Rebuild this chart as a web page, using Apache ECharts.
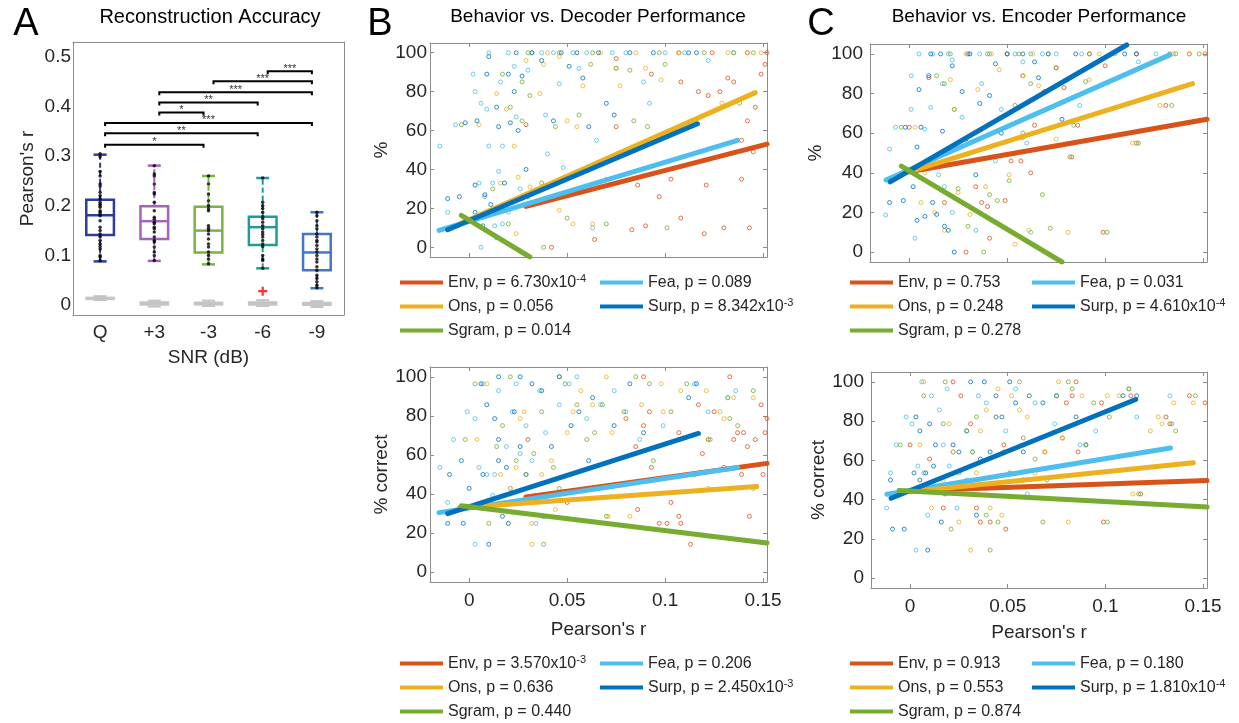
<!DOCTYPE html>
<html>
<head>
<meta charset="utf-8">
<script src="https://cdn.jsdelivr.net/npm/echarts@6.0.0/dist/echarts.min.js"></script>
<style>
html,body{margin:0;padding:0;background:#fff}
#main{width:1239px;height:723px}
</style>
</head>
<body>
<div id="main"></div>
<script>
// ---------- panel A : reconstruction accuracy ----------
var snrCats = ['Q', '+3', '-3', '-6', '-9'];
// [lower whisker, q1, median, q3, upper whisker]
var boxStats = [
	[0.088, 0.141, 0.181, 0.212, 0.303],
	[0.089, 0.133, 0.169, 0.199, 0.281],
	[0.082, 0.106, 0.150, 0.198, 0.260],
	[0.074, 0.121, 0.157, 0.178, 0.256],
	[0.034, 0.070, 0.106, 0.143, 0.187]
];
var nullStats = [
	[0.010, 0.012, 0.0135, 0.015, 0.018],
	[-0.003, 0.0005, 0.003, 0.0055, 0.009],
	[-0.002, 0.001, 0.003, 0.005, 0.009],
	[-0.002, 0.0008, 0.003, 0.0055, 0.010],
	[-0.004, 0.000, 0.002, 0.0045, 0.008]
];
var outliers = [[3, 0.028]];
var dotsQ = [0.305, 0.299, 0.269, 0.26, 0.244, 0.24, 0.227, 0.22, 0.214, 0.207, 0.203, 0.2, 0.197, 0.19, 0.187, 0.183, 0.18, 0.17, 0.157, 0.15, 0.143, 0.137, 0.13, 0.123, 0.118, 0.113, 0.1, 0.097, 0.09];
var dotsP3 = [0.2805, 0.264, 0.26, 0.244, 0.227, 0.224, 0.207, 0.19, 0.177, 0.173, 0.167, 0.164, 0.157, 0.154, 0.147, 0.137, 0.13, 0.127, 0.117, 0.107, 0.1, 0.09];
var dotsM3 = [0.26, 0.244, 0.224, 0.21, 0.2, 0.194, 0.19, 0.16, 0.155, 0.15, 0.143, 0.133, 0.123, 0.117, 0.107, 0.1, 0.093, 0.083];
var dotsM6 = [0.256, 0.207, 0.2, 0.194, 0.187, 0.178, 0.174, 0.167, 0.16, 0.154, 0.147, 0.142, 0.137, 0.13, 0.123, 0.118, 0.1, 0.093, 0.09, 0.074];
var dotsM9 = [0.187, 0.18, 0.17, 0.16, 0.154, 0.143, 0.137, 0.13, 0.127, 0.12, 0.113, 0.107, 0.1, 0.093, 0.087, 0.077, 0.07, 0.06, 0.054, 0.047, 0.04, 0.035];
// [from category, to category, height, stars]
var brackets = [
	[1, 3, 0.323, '*'], [1, 4, 0.346, '**'], [1, 5, 0.367, '***'],
	[2, 3, 0.388, '*'], [2, 4, 0.408, '**'], [2, 5, 0.429, '***'],
	[3, 5, 0.451, '***'], [4, 5, 0.471, '***']
];

// ---------- panels B / C : behaviour vs performance ----------
var features = ['Env', 'Fea', 'Ons', 'Surp', 'Sgram'];

var decTopEnv = [[0.029,63],[0.042,0],[0.064,4],[0.075,62],[0.075,97],[0.083,9],[0.086,32],[0.090,11],[0.093,89],[0.097,26],[0.103,35],[0.108,15],[0.117,80],[0.120,7],[0.121,32],[0.122,78],[0.128,80],[0.130,10],[0.132,87],[0.135,85],[0.139,55],[0.139,35],[0.142,65],[0.143,10],[0.146,72],[0.149,89],[0.151,94],[0.142,100],[0.152,100],[0.145,49],[0.107,100],[0.124,100],[0.108,85]];
var decTopFea = [[-0.015,52],[-0.011,18],[-0.007,63],[0.002,89],[0.003,80],[0.006,74],[0.009,71],[0.010,52],[0.015,39],[0.016,85],[0.017,52],[0.012,33],[0.023,93],[0.024,67],[0.030,91],[0.030,26],[0.032,100],[0.037,100],[0.039,68],[0.040,48],[0.046,84],[0.048,41],[0.053,100],[0.056,92],[0.063,10],[0.065,55],[0.073,100],[0.089,85],[0.092,74],[0.122,96],[0.135,100],[0.006,0],[0.017,12],[0.010,100],[0.020,100],[0.043,100],[0.060,100],[0.080,100],[0.100,100],[0.110,100],[0.005,33],[0.008,26],[0.013,11],[0.020,18],[0.026,30]];
var decTopOns = [[0.005,63],[0.014,79],[0.019,71],[0.023,52],[0.025,36],[0.029,96],[0.031,31],[0.036,79],[0.038,94],[0.046,98],[0.050,65],[0.053,12],[0.055,62],[0.063,12],[0.067,100],[0.070,35],[0.075,92],[0.077,83],[0.090,92],[0.098,86],[0.107,100],[0.129,74],[0.132,100],[0.142,100],[0.149,100],[0.024,7],[0.046,19],[0.016,33],[0.040,100],[0.085,100],[0.058,83]];
var decTopSurp = [[-0.011,25],[-0.005,26],[-0.002,64],[0.003,32],[0.004,65],[0.008,27],[0.009,89],[0.010,98],[0.014,72],[0.015,62],[0.020,89],[0.021,64],[0.023,80],[0.025,60],[0.027,88],[0.029,40],[0.032,100],[0.037,96],[0.043,65],[0.047,100],[0.051,93],[0.058,87],[0.061,62],[0.070,74],[0.074,68],[0.082,100],[0.112,100],[0.116,100],[0.014,5],[0.003,18],[0.007,11],[0.011,22],[0.018,33],[0.024,100],[0.055,100],[0.066,100],[0.094,100]];
var decTopSgram = [[-0.004,63],[0.017,89],[0.021,72],[0.027,85],[0.027,65],[0.031,78],[0.037,33],[0.038,0],[0.044,62],[0.050,15],[0.056,68],[0.062,94],[0.070,12],[0.075,92],[0.082,91],[0.084,65],[0.091,62],[0.100,94],[0.101,10],[0.138,74],[0.135,100],[0.145,100],[0.046,100],[0.063,100],[0.097,100],[0.012,30],[0.020,12],[0.030,100],[0.120,100]];

var decBotEnv = [[0.080,78.6],[0.085,64.3],[0.089,100],[0.086,32.1],[0.089,75],[0.092,82.1],[0.093,53.6],[0.097,25],[0.101,25],[0.103,35.7],[0.107,71.4],[0.107,28.6],[0.108,25],[0.113,14.3],[0.117,85.7],[0.119,60.7],[0.122,67.9],[0.125,82.1],[0.130,53.6],[0.133,100],[0.135,67.9],[0.139,50],[0.140,71.4],[0.142,64.3],[0.143,28.6],[0.146,67.9],[0.149,85.7],[0.150,50],[0.151,71.4],[0.152,78.6],[0.137,71.4],[0.115,50],[0.030,67.9],[0.050,35.7]];
var decBotFea = [[-0.015,53.6],[-0.011,35.7],[-0.008,67.9],[-0.001,82.1],[0.003,78.6],[0.003,14.3],[0.007,96.4],[0.009,50],[0.012,39.3],[0.015,92.9],[0.019,64.3],[0.022,82.1],[0.024,96.4],[0.029,75],[0.032,57.1],[0.036,92.9],[0.039,71.4],[0.046,85.7],[0.051,96.4],[0.055,100],[0.060,78.6],[0.067,85.7],[0.074,92.9],[0.080,82.1],[0.087,67.9],[0.099,75],[0.115,96.4],[0.122,82.1],[0.132,89.3],[0.136,92.9],[0.034,25],[0.021,42.9],[0.005,53.6],[0.013,50],[0.026,60.7]];
var decBotOns = [[0.004,67.9],[0.009,96.4],[0.016,50],[0.021,42.9],[0.026,78.6],[0.028,82.1],[0.032,14.3],[0.032,25],[0.037,50],[0.042,57.1],[0.044,32.1],[0.046,100],[0.050,71.4],[0.053,82.1],[0.057,92.9],[0.063,85.7],[0.070,100],[0.071,28.6],[0.073,71.4],[0.082,28.6],[0.088,85.7],[0.098,96.4],[0.099,82.1],[0.108,92.9],[0.121,92.9],[0.128,82.1],[0.130,78.6],[0.135,89.3],[0.145,89.3],[0.122,42.9],[0.024,53.6]];
var decBotSurp = [[-0.010,50],[-0.011,25],[-0.004,57.1],[-0.003,25],[0.000,42.9],[0.006,96.4],[0.009,85.7],[0.010,14.3],[0.013,78.6],[0.015,57.1],[0.015,67.9],[0.017,28.6],[0.020,25],[0.023,82.1],[0.026,64.3],[0.029,50],[0.032,96.4],[0.034,39.3],[0.037,92.9],[0.038,28.6],[0.042,64.3],[0.046,100],[0.052,75],[0.056,82.1],[0.061,57.1],[0.063,89.3],[0.074,75],[0.082,96.4],[0.089,71.4],[0.112,89.3],[0.116,96.4],[0.026,100],[0.015,100],[0.007,50],[0.019,53.6]];
var decBotSgram = [[-0.002,67.9],[0.003,96.4],[0.014,64.3],[0.017,75],[0.021,100],[0.024,57.1],[0.029,50],[0.033,60.7],[0.037,82.1],[0.038,14.3],[0.043,53.6],[0.046,42.9],[0.049,96.4],[0.055,85.7],[0.060,67.9],[0.064,71.4],[0.068,85.7],[0.070,28.6],[0.079,82.1],[0.085,100],[0.092,96.4],[0.094,57.1],[0.103,82.1],[0.111,96.4],[0.123,67.9],[0.132,89.3],[0.133,78.6],[0.137,75],[0.145,92.9],[0.145,42.9],[0.010,25]];

var encTopEnv = [[0.000,63],[0.010,88],[0.018,25],[0.029,0],[0.034,33],[0.037,25],[0.040,23],[0.041,7],[0.049,26],[0.052,46],[0.057,46],[0.058,89],[0.062,40],[0.064,64],[0.069,81],[0.075,93],[0.079,83],[0.083,48],[0.086,64],[0.099,10],[0.100,94],[0.116,55],[0.131,74],[0.143,100],[0.151,100],[0.116,100],[0.050,100],[0.030,100],[0.092,100],[0.133,100]];
var encTopFea = [[-0.012,18.7],[-0.010,52],[-0.007,63],[0.001,72],[0.001,89],[0.003,7],[0.005,100],[0.008,62],[0.011,73],[0.015,39],[0.017,85],[0.018,33],[0.022,97],[0.027,68],[0.030,100],[0.034,11],[0.037,85],[0.041,100],[0.044,46],[0.047,72],[0.054,100],[0.058,96],[0.060,55],[0.062,10],[0.068,100],[0.087,74],[0.088,100],[0.117,96],[0.126,100],[0.022,20],[0.012,100],[0.020,100],[0.036,100],[0.062,100],[0.075,100]];
var encTopOns = [[0.003,63],[0.008,40],[0.013,20],[0.018,11],[0.021,87],[0.023,72],[0.029,100],[0.031,19],[0.035,82],[0.039,33],[0.042,100],[0.046,92],[0.051,39],[0.054,4],[0.058,89],[0.061,11],[0.066,84],[0.071,100],[0.075,57],[0.081,10],[0.092,87],[0.128,74],[0.135,100],[0.143,100],[0.114,55],[0.097,100],[0.006,25],[0.025,30],[0.063,100]];
var encTopSurp = [[-0.010,25],[-0.003,26],[-0.002,63],[0.002,33],[0.004,53],[0.005,82],[0.006,63],[0.008,18],[0.010,89],[0.011,100],[0.014,19],[0.017,61],[0.018,13],[0.020,11],[0.022,94],[0.023,0],[0.027,81],[0.029,57],[0.031,100],[0.034,39],[0.036,75],[0.041,79],[0.044,95],[0.047,60],[0.050,100],[0.058,58],[0.064,96],[0.066,88],[0.071,100],[0.078,67],[0.116,100],[0.004,16],[0.012,25],[0.016,100],[0.058,100],[0.085,100],[0.110,100]];
var encTopSgram = [[-0.004,63],[0.014,89],[0.018,85],[0.023,72],[0.025,32],[0.030,13],[0.038,0],[0.041,29],[0.045,26],[0.051,36],[0.054,74],[0.056,100],[0.058,60],[0.062,85],[0.068,29],[0.072,12],[0.075,93],[0.082,48],[0.084,64],[0.092,100],[0.101,10],[0.117,55],[0.134,74],[0.136,100],[0.148,100],[0.090,86],[0.021,100],[0.040,100],[0.105,100]];

var encBotEnv = [[0.000,67.9],[0.010,60.7],[0.017,35.7],[0.022,100],[0.026,92.9],[0.031,78.6],[0.034,35.7],[0.036,28.6],[0.041,28.6],[0.044,82.1],[0.048,67.9],[0.049,25],[0.051,53.6],[0.058,50],[0.069,64.3],[0.078,71.4],[0.080,89.3],[0.083,92.9],[0.086,64.3],[0.098,89.3],[0.099,28.6],[0.118,42.9],[0.113,92.9],[0.131,82.1],[0.133,78.6],[0.143,92.9],[0.151,89.3],[0.085,100]];
var encBotFea = [[-0.012,35.7],[-0.010,53.6],[-0.007,67.9],[-0.002,82.1],[0.001,78.6],[0.003,14.3],[0.004,57.1],[0.006,100],[0.009,32.1],[0.011,92.9],[0.015,85.7],[0.017,67.9],[0.019,96.4],[0.022,64.3],[0.024,35.7],[0.029,50],[0.032,64.3],[0.035,92.9],[0.039,89.3],[0.044,82.1],[0.049,75],[0.054,96.4],[0.060,42.9],[0.064,89.3],[0.074,78.6],[0.087,67.9],[0.095,75],[0.116,82.1],[0.133,92.9],[0.112,96.4],[0.007,53.6],[0.020,57.1]];
var encBotOns = [[0.005,67.9],[0.007,100],[0.011,35.7],[0.017,50],[0.020,78.6],[0.022,64.3],[0.025,28.6],[0.031,14.3],[0.034,53.6],[0.036,75],[0.039,85.7],[0.041,35.7],[0.045,96.4],[0.047,32.1],[0.052,92.9],[0.056,85.7],[0.060,82.1],[0.064,53.6],[0.069,64.3],[0.076,100],[0.078,71.4],[0.081,28.6],[0.088,92.9],[0.101,92.9],[0.107,92.9],[0.127,82.1],[0.129,78.6],[0.123,75],[0.135,89.3],[0.145,89.3],[0.114,42.9]];
var encBotSurp = [[-0.010,50],[-0.009,25],[-0.003,25],[0.003,82.1],[0.005,50],[0.005,75],[0.008,53.6],[0.009,14.3],[0.010,78.6],[0.013,67.9],[0.016,28.6],[0.018,42.9],[0.022,67.9],[0.025,64.3],[0.029,75],[0.031,100],[0.034,32.1],[0.036,60.7],[0.041,64.3],[0.044,92.9],[0.047,82.1],[0.051,100],[0.054,89.3],[0.058,64.3],[0.061,92.9],[0.068,89.3],[0.075,92.9],[0.085,82.1],[0.090,67.9],[0.109,92.9],[0.116,92.9],[0.038,100],[0.012,57.1],[0.002,53.6]];
var encBotSgram = [[-0.005,67.9],[0.007,92.9],[0.017,78.6],[0.018,100],[0.021,25],[0.025,53.6],[0.029,75],[0.032,64.3],[0.034,82.1],[0.039,32.1],[0.041,14.3],[0.045,28.6],[0.048,64.3],[0.056,100],[0.058,71.4],[0.064,60.7],[0.068,28.6],[0.070,50],[0.075,92.9],[0.081,100],[0.083,96.4],[0.090,67.9],[0.094,89.3],[0.101,28.6],[0.102,82.1],[0.112,96.4],[0.117,42.9],[0.134,78.6],[0.136,75],[0.146,92.9]];

// regression line end points
var fitDecTop = {Env: [[0.029,21],[0.152,53]], Fea: [[-0.0154,8.7],[0.137,55]], Ons: [[-0.005,12],[0.146,79.5]], Surp: [[-0.011,9],[0.1165,63.5]], Sgram: [[-0.004,16.4],[0.031,-5]]};
var fitDecBot = {Env: [[0.029,38.5],[0.152,55.7]], Fea: [[-0.0154,30.5],[0.137,53.6]], Ons: [[-0.005,33],[0.1467,43.8]], Surp: [[-0.011,30],[0.117,71]], Sgram: [[-0.004,34],[0.152,15]]};
var fitEncTop = {Env: [[0,40.5],[0.152,67]], Fea: [[-0.0118,36.4],[0.133,99.5]], Ons: [[0,40.5],[0.1446,85]], Surp: [[-0.0097,35.4],[0.111,104.5]], Sgram: [[-0.004,43.4],[0.078,-5]]};
var fitEncBot = {Env: [[0,44.5],[0.152,49.7]], Fea: [[-0.0118,42.7],[0.1333,66.3]], Ons: [[0,44],[0.145,58.8]], Surp: [[-0.0097,40.7],[0.1155,91]], Sgram: [[-0.0056,44.7],[0.152,36.2]]};

var pDecTop = {Env: '6.730x10^-4', Fea: '0.089', Ons: '0.056', Surp: '8.342x10^-3', Sgram: '0.014'};
var pDecBot = {Env: '3.570x10^-3', Fea: '0.206', Ons: '0.636', Surp: '2.450x10^-3', Sgram: '0.440'};
var pEncTop = {Env: '0.753', Fea: '0.031', Ons: '0.248', Surp: '4.610x10^-4', Sgram: '0.278'};
var pEncBot = {Env: '0.913', Fea: '0.180', Ons: '0.553', Surp: '1.810x10^-4', Sgram: '0.874'};

var xTicks = [0, 0.05, 0.1, 0.15];
var yTicks = [0, 20, 40, 60, 80, 100];
var aTicks = [0, 0.1, 0.2, 0.3, 0.4, 0.5];

// ---------- styles ----------
var FONT = '"Liberation Sans", Arial, Helvetica, sans-serif';
var AX = '#8c8c8c';
var TXT = '#262626';
var TICKFS = 19;
var featColor = {Env: '#D95319', Fea: '#4DBEEE', Ons: '#EDB120', Surp: '#0072BD', Sgram: '#77AC30'};
var boxColor = ['#2E3C9C', '#A462BA', '#7AB342', '#1F9B98', '#4376C6'];

var dom = document.getElementById('main');
var myChart = echarts.init(dom, null, {renderer: 'canvas'});

var grids = [
	{left: 73, top: 42, width: 271, height: 273},
	{left: 430, top: 43, width: 337, height: 214},
	{left: 430, top: 367, width: 337, height: 215},
	{left: 870, top: 44, width: 337, height: 218},
	{left: 871, top: 372, width: 336, height: 216}
];

function tickStyle() {
	return {inside: true, length: 4, lineStyle: {color: AX}};
}
function lineStyleAx() {
	return {show: true, onZero: false, lineStyle: {color: AX, width: 1}};
}
function nameStyle() {
	return {fontSize: 19, color: TXT, fontFamily: FONT};
}

var xAxes = [];
var yAxes = [];

// panel A axes
xAxes.push({
	type: 'category', gridIndex: 0, data: snrCats, position: 'bottom',
	axisLine: lineStyleAx(), axisTick: Object.assign(tickStyle(), {alignWithLabel: true}),
	axisLabel: {fontSize: TICKFS, color: TXT, fontFamily: FONT, margin: 8},
	name: 'SNR (dB)', nameLocation: 'middle', nameGap: 33, nameTextStyle: nameStyle()
});
xAxes.push({
	type: 'category', gridIndex: 0, data: snrCats, position: 'top',
	axisLine: lineStyleAx(), axisTick: Object.assign(tickStyle(), {alignWithLabel: true}),
	axisLabel: {show: false}
});
yAxes.push({
	type: 'value', gridIndex: 0, min: -0.02, max: 0.53, position: 'left',
	axisLine: lineStyleAx(), axisTick: Object.assign(tickStyle(), {customValues: aTicks}),
	axisLabel: {customValues: aTicks, fontSize: TICKFS, color: TXT, fontFamily: FONT, margin: 2},
	splitLine: {show: false},
	name: "Pearson's r", nameLocation: 'middle', nameGap: 36, nameTextStyle: nameStyle()
});
yAxes.push({
	type: 'value', gridIndex: 0, min: -0.02, max: 0.53, position: 'right',
	axisLine: lineStyleAx(), axisTick: Object.assign(tickStyle(), {customValues: aTicks}),
	axisLabel: {show: false}, splitLine: {show: false}
});

// scatter panel axes
function scatterAxes(gi, xName, xGap, yName, yGap, yMargin) {
	xAxes.push({
		type: 'value', gridIndex: gi, min: -0.02, max: 0.152, position: 'bottom',
		axisLine: lineStyleAx(), axisTick: Object.assign(tickStyle(), {customValues: xTicks}),
		axisLabel: {show: !!xName, customValues: xTicks, fontSize: TICKFS, color: TXT, fontFamily: FONT, margin: 9,
			formatter: function (v) { return String(v); }},
		splitLine: {show: false},
		name: xName || '', nameLocation: 'middle', nameGap: xGap, nameTextStyle: nameStyle()
	});
	xAxes.push({
		type: 'value', gridIndex: gi, min: -0.02, max: 0.152, position: 'top',
		axisLine: lineStyleAx(), axisTick: Object.assign(tickStyle(), {customValues: xTicks}),
		axisLabel: {show: false}, splitLine: {show: false}
	});
	yAxes.push({
		type: 'value', gridIndex: gi, min: -5, max: 105, position: 'left',
		axisLine: lineStyleAx(), axisTick: Object.assign(tickStyle(), {customValues: yTicks}),
		axisLabel: {customValues: yTicks, fontSize: TICKFS, color: TXT, fontFamily: FONT, margin: yMargin},
		splitLine: {show: false},
		name: yName, nameLocation: 'middle', nameGap: yGap, nameTextStyle: nameStyle()
	});
	yAxes.push({
		type: 'value', gridIndex: gi, min: -5, max: 105, position: 'right',
		axisLine: lineStyleAx(), axisTick: Object.assign(tickStyle(), {customValues: yTicks}),
		axisLabel: {show: false}, splitLine: {show: false}
	});
}
scatterAxes(1, null, 0, '%', 39, 3);
scatterAxes(2, "Pearson's r", 38, '% correct', 38, 3);
scatterAxes(3, null, 0, '%', 45, 7);
scatterAxes(4, "Pearson's r", 35, '% correct', 43, 7);

var series = [];

// panel A: boxes
function boxRender(colorOf, lw, dashed, capFrac) {
	return function (params, api) {
		var i = api.value(0);
		var low = api.coord([i, api.value(1)]);
		var q1 = api.coord([i, api.value(2)]);
		var med = api.coord([i, api.value(3)]);
		var q3 = api.coord([i, api.value(4)]);
		var high = api.coord([i, api.value(5)]);
		var band = api.size([1, 0])[0];
		var hw = band * 0.255, cw = band * capFrac;
		var x = low[0];
		var c = colorOf(params.dataIndex);
		var wStyle = {stroke: c, lineWidth: lw};
		if (dashed) wStyle.lineDash = [5, 3];
		return {type: 'group', children: [
			{type: 'line', shape: {x1: x, y1: low[1], x2: x, y2: q1[1]}, style: wStyle},
			{type: 'line', shape: {x1: x, y1: q3[1], x2: x, y2: high[1]}, style: wStyle},
			{type: 'line', shape: {x1: x - cw, y1: low[1], x2: x + cw, y2: low[1]}, style: {stroke: c, lineWidth: lw + 0.5}},
			{type: 'line', shape: {x1: x - cw, y1: high[1], x2: x + cw, y2: high[1]}, style: {stroke: c, lineWidth: lw + 0.5}},
			{type: 'rect', shape: {x: x - hw, y: q3[1], width: 2 * hw, height: q1[1] - q3[1]}, style: {stroke: c, fill: dashed ? 'none' : '#d4d4d4', lineWidth: lw + 0.5}},
			{type: 'line', shape: {x1: x - hw, y1: med[1], x2: x + hw, y2: med[1]}, style: {stroke: c, lineWidth: lw + 0.5}}
		]};
	};
}
series.push({
	type: 'custom', xAxisIndex: 0, yAxisIndex: 0, z: 2,
	renderItem: boxRender(function () { return '#c4c4c4'; }, 1.5, false, 0.12),
	data: nullStats.map(function (s, i) { return [i].concat(s); })
});
series.push({
	type: 'custom', xAxisIndex: 0, yAxisIndex: 0, z: 2,
	renderItem: boxRender(function (k) { return boxColor[k]; }, 2, true, 0.12),
	data: boxStats.map(function (s, i) { return [i].concat(s); })
});
var allDots = [dotsQ, dotsP3, dotsM3, dotsM6, dotsM9];
var dotData = [];
allDots.forEach(function (arr, i) {
	arr.forEach(function (v) { dotData.push([i, v]); });
});
series.push({
	type: 'scatter', xAxisIndex: 0, yAxisIndex: 0, z: 3,
	symbolSize: 3.5, itemStyle: {color: '#000'}, data: dotData
});
series.push({
	type: 'scatter', xAxisIndex: 0, yAxisIndex: 0, z: 3,
	symbol: 'path://M3,0h2v3h3v2h-3v3h-2v-3h-3v-2h3z', symbolSize: 9,
	itemStyle: {color: '#ff0000'}, data: outliers
});
// significance brackets
series.push({
	type: 'custom', xAxisIndex: 0, yAxisIndex: 0, z: 4,
	encode: {x: [0, 1], y: 2},
	data: brackets.map(function (b) { return [b[0] - 1, b[1] - 1, b[2]]; }),
	renderItem: function (params, api) {
		var p1 = api.coord([api.value(0), api.value(2)]);
		var p2 = api.coord([api.value(1), api.value(2)]);
		var x1 = p1[0] + 5, x2 = p2[0] - 5, y = p1[1];
		return {type: 'group', children: [
			{type: 'polyline', shape: {points: [[x1, y + 3], [x1, y], [x2, y], [x2, y + 3]]},
				style: {stroke: '#000', lineWidth: 2, fill: 'none'}},
			{type: 'text', style: {text: brackets[params.dataIndex][3], x: (x1 + x2) / 2, y: y + 3,
				align: 'center', verticalAlign: 'bottom', fontSize: 11, fontFamily: FONT, fill: '#333'}}
		]};
	}
});

// panels B/C
var panels = [
	{key: 'decTop', grid: 1, pts: {Env: decTopEnv, Fea: decTopFea, Ons: decTopOns, Surp: decTopSurp, Sgram: decTopSgram}, fit: fitDecTop, p: pDecTop},
	{key: 'decBot', grid: 2, pts: {Env: decBotEnv, Fea: decBotFea, Ons: decBotOns, Surp: decBotSurp, Sgram: decBotSgram}, fit: fitDecBot, p: pDecBot},
	{key: 'encTop', grid: 3, pts: {Env: encTopEnv, Fea: encTopFea, Ons: encTopOns, Surp: encTopSurp, Sgram: encTopSgram}, fit: fitEncTop, p: pEncTop},
	{key: 'encBot', grid: 4, pts: {Env: encBotEnv, Fea: encBotFea, Ons: encBotOns, Surp: encBotSurp, Sgram: encBotSgram}, fit: fitEncBot, p: pEncBot}
];
var legendText = {};
panels.forEach(function (pn) {
	var xi = 2 + 2 * (pn.grid - 1), yi = 2 + 2 * (pn.grid - 1);
	features.forEach(function (f) {
		series.push({
			type: 'scatter', name: f + ' pts ' + pn.key, xAxisIndex: xi, yAxisIndex: yi, z: 2,
			symbolSize: 4, data: pn.pts[f],
			itemStyle: {color: 'rgba(0,0,0,0)', borderColor: featColor[f], borderWidth: 1}
		});
	});
	features.forEach(function (f, k) {
		var nm = f + '|' + pn.key;
		var pv = pn.p[f].split('^');
		legendText[nm] = f + ', p = ' + pv[0] + (pv[1] ? '{s|' + pv[1] + '}' : '');
		series.push({
			type: 'line', name: nm, xAxisIndex: xi, yAxisIndex: yi, z: 5 + k,
			symbol: 'none', color: featColor[f], data: pn.fit[f],
			lineStyle: {width: 5, color: featColor[f], cap: 'round'}, clip: true
		});
	});
});

function makeLegend(names, left, top) {
	return {
		data: names, left: left, top: top, orient: 'vertical', padding: 0,
		itemGap: 5, itemWidth: 43, itemHeight: 4, icon: 'rect', selectedMode: false,
		formatter: function (n) { return legendText[n]; },
		textStyle: {fontSize: 16, color: TXT, fontFamily: FONT, lineHeight: 19,
			rich: {s: {fontSize: 11, lineHeight: 10, verticalAlign: 'top', color: TXT, fontFamily: FONT}}}
	};
}
var legends = [
	makeLegend(['Env|decTop', 'Ons|decTop', 'Sgram|decTop'], 400, 273),
	makeLegend(['Fea|decTop', 'Surp|decTop'], 600, 273),
	makeLegend(['Env|decBot', 'Ons|decBot', 'Sgram|decBot'], 400, 654),
	makeLegend(['Fea|decBot', 'Surp|decBot'], 600, 654),
	makeLegend(['Env|encTop', 'Ons|encTop', 'Sgram|encTop'], 850, 273),
	makeLegend(['Fea|encTop', 'Surp|encTop'], 1032, 273),
	makeLegend(['Env|encBot', 'Ons|encBot', 'Sgram|encBot'], 850, 654),
	makeLegend(['Fea|encBot', 'Surp|encBot'], 1032, 654)
];

function titleAt(text, x, y, size) {
	return {text: text, left: x, top: y, textAlign: 'center', padding: 0,
		textStyle: {fontSize: size, fontWeight: 'normal', color: '#000', fontFamily: FONT}};
}
var titles = [
	titleAt('A', 26, 6, 38),
	titleAt('Reconstruction Accuracy', 210, 7, 20),
	titleAt('B', 380, 6, 38),
	titleAt('Behavior vs. Decoder Performance', 598, 7, 19),
	titleAt('C', 821, 6, 38),
	titleAt('Behavior vs. Encoder Performance', 1039, 7, 19)
];

var option = {
	backgroundColor: '#fff',
	animation: false,
	title: titles,
	legend: legends,
	grid: grids,
	xAxis: xAxes,
	yAxis: yAxes,
	series: series
};
myChart.setOption(option, true);
</script>
</body>
</html>
